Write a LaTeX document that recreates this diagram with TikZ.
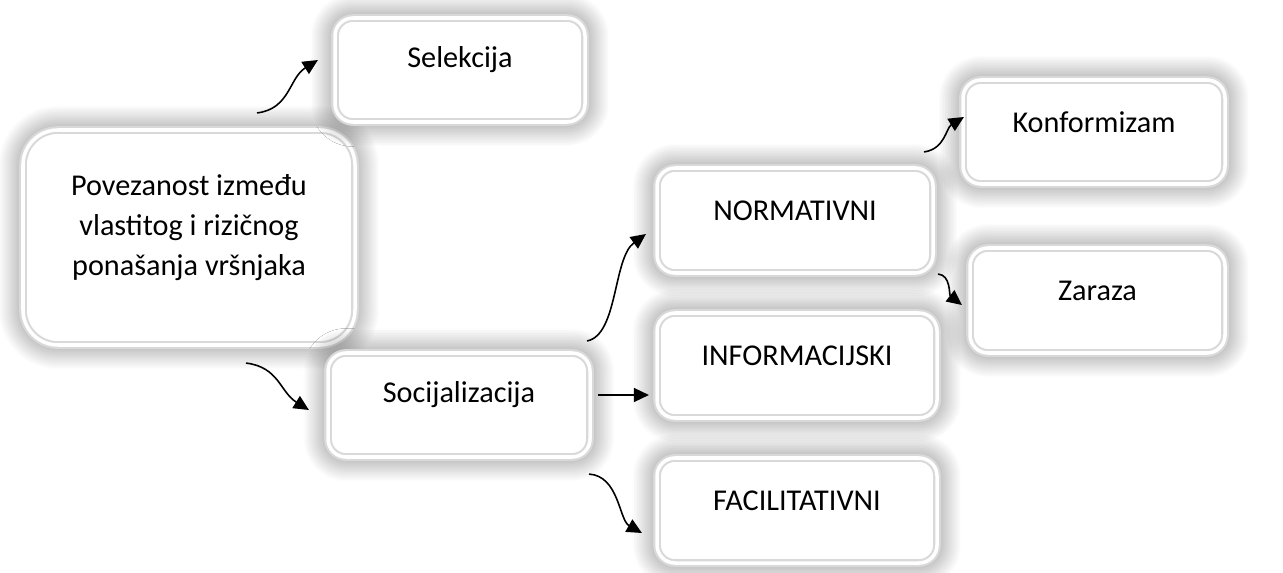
\documentclass[tikz,border=0pt]{standalone}
\usepackage{fontspec}
\setmainfont{Carlito}
\usetikzlibrary{shapes,arrows.meta,positioning,calc,shadows.blur}

\tikzset{
    box/.style={rectangle, rounded corners=0.18cm, fill=white, draw=gray!30,
        double=white, double distance=1.0pt, line width=0.6pt, inner sep=0pt,
        blur shadow={shadow xshift=0pt, shadow yshift=0pt, shadow blur radius=7pt,
            shadow opacity=55, shadow blur steps=16}},
    boxtext/.style={font=\fontsize{8.6}{11.4}\selectfont, align=center, yshift=0.1cm},
    flow/.style={-{Triangle[length=4.3pt,width=4pt]}, line width=0.45pt}
}

\begin{document}
\begin{tikzpicture}
        \useasboundingbox (0,0) rectangle (12.83,-5.72);

        % Source
        \node[box, rounded corners=0.35cm, minimum width=3.32cm, minimum height=2.15cm,
            label={[boxtext]center:{Povezanost između\\vlastitog i rizičnog\\ponašanja vršnjaka}}]
            (povezanost) at (1.89, -2.375) {};

        % Selection and socialisation
        \node[box, minimum width=2.5cm, minimum height=1.04cm,
            label={[boxtext]center:Selekcija}] (selekcija) at (4.60, -0.70) {};
        \node[box, minimum width=2.62cm, minimum height=1.04cm,
            label={[boxtext]center:Socijalizacija}] (socijalizacija) at (4.59, -4.05) {};

        % Kinds of influence
        \node[box, minimum width=2.76cm, minimum height=1.05cm,
            label={[boxtext]center:NORMATIVNI}] (normativni) at (7.95, -2.205) {};
        \node[box, minimum width=2.80cm, minimum height=1.05cm,
            label={[boxtext]center:INFORMACIJSKI}] (informacijski) at (7.97, -3.655) {};
        \node[box, minimum width=2.80cm, minimum height=1.05cm,
            label={[boxtext]center:FACILITATIVNI}] (facilitativni) at (7.97, -5.105) {};

        % Normative outcomes
        \node[box, minimum width=2.62cm, minimum height=1.04cm,
            label={[boxtext]center:Konformizam}] (konformizam) at (10.94, -1.32) {};
        \node[box, minimum width=2.55cm, minimum height=1.05cm,
            label={[boxtext]center:Zaraza}] (zaraza) at (10.975, -3.005) {};

        % Arrows
        \draw[flow] ([xshift=0.68cm, yshift=0.16cm]povezanost.north)
            .. controls +(0.33, 0.04) and +(-0.29, -0.18) ..
            ([xshift=-0.16cm, yshift=0.10cm]selekcija.west);
        \draw[flow] ([xshift=0.57cm, yshift=-0.17cm]povezanost.south)
            .. controls +(0.33, -0.04) and +(-0.29, 0.18) ..
            ([xshift=-0.18cm, yshift=-0.05cm]socijalizacija.west);
        \draw[flow] ([xshift=-0.04cm, yshift=0.11cm]socijalizacija.north east)
            .. controls +(0.31, 0.06) and +(-0.33, -0.24) ..
            ([xshift=-0.10cm, yshift=-0.135cm]normativni.west);
        \draw[flow] ([xshift=0.07cm, yshift=0.10cm]socijalizacija.east)
            -- ([xshift=-0.07cm, yshift=-0.295cm]informacijski.west);
        \draw[flow] ([xshift=-0.02cm, yshift=-0.16cm]socijalizacija.south east)
            .. controls +(0.30, -0.02) and +(-0.23, 0.13) ..
            ([xshift=-0.14cm, yshift=-0.225cm]facilitativni.west);
        \draw[flow] ([xshift=-0.10cm, yshift=0.15cm]normativni.north east)
            .. controls +(0.21, 0.03) and +(-0.18, -0.11) ..
            ([xshift=0.02cm, yshift=0.15cm]konformizam.west);
        \draw[flow] ([xshift=0.04cm]normativni.south east)
            .. controls +(0.13, -0.01) and +(-0.13, 0.10) ..
            ([xshift=-0.07cm, yshift=-0.045cm]zaraza.west);
    \end{tikzpicture}
\end{document}
